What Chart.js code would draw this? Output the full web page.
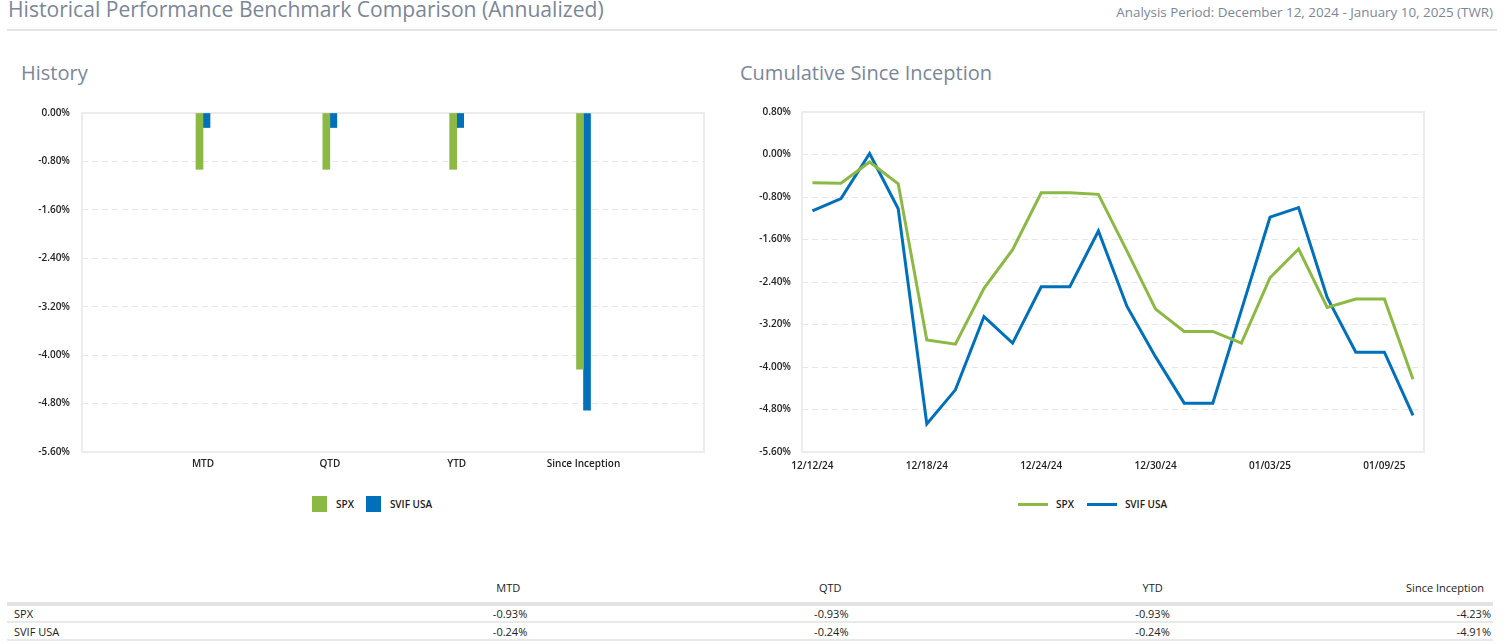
<!DOCTYPE html>
<html>
<head>
<meta charset="utf-8">
<script src="https://cdn.jsdelivr.net/npm/chart.js@4.4.1/dist/chart.umd.min.js"></script>
<style>
body{margin:0;width:1507px;height:644px;position:relative;overflow:hidden;background:#fff;font-family:'Open Sans',sans-serif;color:#222;}
.title{position:absolute;left:8px;top:-2px;font-size:21.1px;line-height:21px;color:#7b8798;white-space:nowrap;}
.period{position:absolute;right:14px;top:3px;font-size:13.4px;line-height:18px;color:#7b8798;white-space:nowrap;}
.rule{position:absolute;left:7px;top:29px;width:1490px;height:2px;background:#e4e4e4;}
.sub{position:absolute;top:60px;font-size:20px;line-height:26px;color:#7b8798;white-space:nowrap;}
.wrap{position:absolute;top:95px;height:380px;}
.legend{position:absolute;top:496px;display:flex;align-items:center;font-size:10px;font-weight:600;line-height:16px;color:#1a1a1a;white-space:nowrap;}
.legend .box{width:15px;height:16px;display:inline-block;}
.legend .ln{width:30px;height:3px;display:inline-block;}
#tbl{position:absolute;left:7px;top:570px;width:1486px;border-collapse:collapse;font-size:11px;color:#222;table-layout:fixed;}
#tbl th{height:29px;padding:3px 9px 0 0;font-weight:normal;text-align:right;border-bottom:4px solid #e3e3e3;}
#tbl td{padding:0 2px 0 0;text-align:right;border-bottom:2px solid #e9e9e9;}
#tbl tr td:first-child{text-align:left;padding-left:7px;}
</style>
</head>
<body>
<div class="title">Historical Performance Benchmark Comparison (Annualized)</div>
<div class="period">Analysis Period: December 12, 2024 - January 10, 2025 (TWR)</div>
<div class="rule"></div>
<div class="sub" style="left:21px">History</div>
<div class="sub" style="left:740px">Cumulative Since Inception</div>
<div class="wrap" style="left:20px;width:700px"><canvas id="barChart"></canvas></div>
<div class="wrap" style="left:720px;width:740px"><canvas id="lineChart"></canvas></div>
<div class="legend" id="barLegend" style="left:312px"></div>
<div class="legend" id="lineLegend" style="left:1018px"></div>
<table id="tbl"></table>
<script>
const periods = ['MTD', 'QTD', 'YTD', 'Since Inception'];
const spxAnn = [-0.93, -0.93, -0.93, -4.23];
const svifAnn = [-0.24, -0.24, -0.24, -4.91];

const dates = ['12/12/24','12/13/24','12/16/24','12/17/24','12/18/24','12/19/24','12/20/24','12/23/24','12/24/24','12/25/24','12/26/24','12/27/24','12/30/24','12/31/24','01/01/25','01/02/25','01/03/25','01/06/25','01/07/25','01/08/25','01/09/25','01/10/25'];
const spxCum = [-0.53,-0.54,-0.14,-0.55,-3.49,-3.57,-2.52,-1.79,-0.72,-0.72,-0.75,-1.82,-2.91,-3.33,-3.33,-3.55,-2.32,-1.78,-2.88,-2.72,-2.72,-4.23];
const svifCum = [-1.06,-0.83,0.02,-1.02,-5.07,-4.43,-3.05,-3.55,-2.49,-2.49,-1.44,-2.86,-3.81,-4.68,-4.68,-2.93,-1.18,-1.00,-2.69,-3.72,-3.72,-4.91];
const dateTicks = [0, 4, 8, 12, 16, 20];

const seriesNames = ['SPX', 'SVIF USA'];
const seriesColors = ['#8cb943', '#0070bb'];

Chart.defaults.font.family = "'Open Sans', sans-serif";
Chart.defaults.font.size = 10;
Chart.defaults.font.weight = 600;
Chart.defaults.color = '#222';
Chart.defaults.animation = false;

// light box round the plot area
const frame = {
  id: 'frame',
  beforeDatasetsDraw(chart) {
    const a = chart.chartArea, ctx = chart.ctx;
    ctx.save();
    ctx.strokeStyle = '#ececec';
    ctx.lineWidth = 2;
    ctx.strokeRect(a.left, a.top, a.right - a.left, a.bottom - a.top);
    ctx.restore();
  }
};

function pct(v) { return (Math.abs(v) < 1e-9 ? 0 : v).toFixed(2) + '%'; }

function yAxis(min, max, w, pad) {
  return {
    min: min, max: max,
    ticks: {stepSize: 0.8, padding: pad, callback: pct},
    grid: {color: '#e6e6e6', lineWidth: 1, drawTicks: false},
    border: {display: false, dash: [6, 4]},
    afterFit(s) { s.width = w; }
  };
}

function xAxis(min, max, pad, vals, labelOf) {
  return {
    type: 'linear', min: min, max: max, offset: false,
    afterBuildTicks(s) { s.ticks = vals.map(v => ({value: v})); },
    ticks: {padding: pad, autoSkip: false, maxRotation: 0, callback: labelOf},
    grid: {display: false, drawTicks: false},
    border: {display: false},
    afterFit(s) { s.height = 23; }
  };
}

new Chart(document.getElementById('barChart'), {
  type: 'bar',
  data: {
    datasets: [spxAnn, svifAnn].map((vals, k) => ({
      label: seriesNames[k],
      data: vals.map((v, i) => ({x: i + 1, y: v})),
      backgroundColor: seriesColors[k],
      barThickness: 7,
      borderWidth: 0
    }))
  },
  options: {
    responsive: true,
    maintainAspectRatio: false,
    layout: {padding: {top: 15, right: 16, bottom: 0, left: 0}},
    plugins: {legend: {display: false}, tooltip: {enabled: false}},
    scales: {
      x: xAxis(0.046, 4.95, 6, periods.map((p, i) => i + 1), v => periods[v - 1]),
      y: yAxis(-5.6, 0, 62, 12)
    }
  },
  plugins: [frame]
});

new Chart(document.getElementById('lineChart'), {
  type: 'line',
  data: {
    datasets: [spxCum, svifCum].map((vals, k) => ({
      label: seriesNames[k],
      data: vals.map((v, i) => ({x: i, y: v})),
      borderColor: seriesColors[k],
      backgroundColor: seriesColors[k],
      borderWidth: 3,
      pointRadius: 0,
      tension: 0,
      fill: false
    }))
  },
  options: {
    responsive: true,
    maintainAspectRatio: false,
    layout: {padding: {top: 15, right: 36, bottom: 0, left: 0}},
    plugins: {legend: {display: false}, tooltip: {enabled: false}},
    scales: {
      x: xAxis(-0.364, 21.385, 8, dateTicks, v => dates[v]),
      y: yAxis(-5.6, 0.8, 82, 11)
    }
  },
  plugins: [frame]
});

// html legends
document.getElementById('barLegend').innerHTML = seriesNames.map((n, k) =>
  '<span class="box" style="background:' + seriesColors[k] + '"></span>' +
  '<span style="margin:0 ' + (k ? 0 : 12) + 'px 0 9px">' + n + '</span>').join('');
document.getElementById('lineLegend').innerHTML = seriesNames.map((n, k) =>
  '<span class="ln" style="background:' + seriesColors[k] + '"></span>' +
  '<span style="margin:0 ' + (k ? 0 : 13) + 'px 0 8px">' + n + '</span>').join('');

// summary table
let html = '<colgroup><col style="width:201px">' + periods.map(() => '<col>').join('') + '</colgroup>';
html += '<tr><th></th>' + periods.map(p => '<th>' + p + '</th>').join('') + '</tr>';
[spxAnn, svifAnn].forEach((vals, k) => {
  html += '<tr style="height:' + (k ? 18 : 17) + 'px"><td>' + seriesNames[k] + '</td>' +
    vals.map(v => '<td>' + v.toFixed(2) + '%</td>').join('') + '</tr>';
});
document.getElementById('tbl').innerHTML = html;
</script>
</body>
</html>
